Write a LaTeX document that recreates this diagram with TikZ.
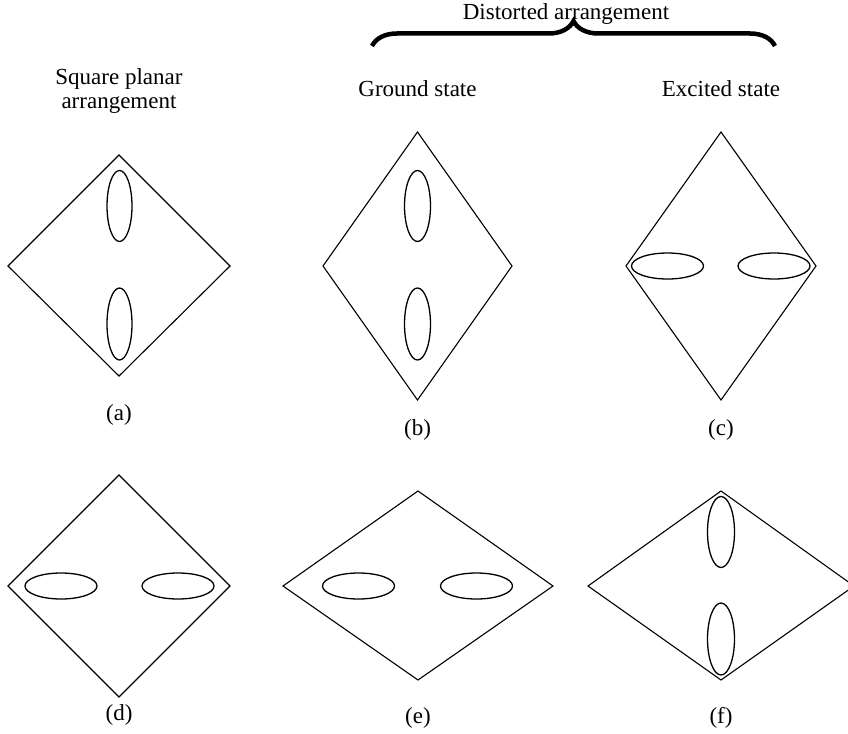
\documentclass[tikz,border=0pt]{standalone}
\usepackage{fontspec}
\setmainfont{Liberation Serif}
\usetikzlibrary{decorations.pathreplacing}

\begin{document}
\begin{tikzpicture}[
  x=1pt,y=-1pt,
  frame/.style={line width=1.1pt,line join=miter},
  lobe/.style={line width=1.3pt},
  lbl/.style={font=\fontsize{23}{24}\selectfont,align=center,inner sep=0pt},
  brc/.style={decorate,decoration={brace,amplitude=25pt},line width=4.5pt}
]
\useasboundingbox (0,0) rectangle (848,733);

% headings
\node[lbl] (sqp) at (119,91) {Square planar\\arrangement};
\node[lbl,anchor=base] (gnd) at (417.5,97) {Ground state};
\node[lbl,anchor=base] (exc) at (721,97) {Excited state};
\node[lbl,anchor=base] (dist) at (566,20) {Distorted arrangement};
\draw[brc] (372,46) -- (775,46);

% top row
\draw[frame] (119,155) -- (230,266) -- (119,376) -- (8,266) -- cycle;
\draw[lobe] (119.5,206) ellipse [x radius=12.5,y radius=35.5];
\draw[lobe] (119.5,324) ellipse [x radius=12.5,y radius=36];
\node[lbl] (la) at (119,415) {(a)};

\draw[frame] (417.5,132) -- (512,266) -- (417.5,400) -- (323,266) -- cycle;
\draw[lobe] (417.5,206) ellipse [x radius=13,y radius=35.5];
\draw[lobe] (417.5,324) ellipse [x radius=13,y radius=36];
\node[lbl] (lb) at (417.5,430) {(b)};

\draw[frame] (721,132) -- (816,266) -- (721,400) -- (626,266) -- cycle;
\draw[lobe] (667.5,266) ellipse [x radius=36,y radius=13];
\draw[lobe] (774,266) ellipse [x radius=36,y radius=13];
\node[lbl] (lc) at (721,430) {(c)};

% bottom row
\draw[frame] (119,475) -- (230,586) -- (119,697) -- (8,586) -- cycle;
\draw[lobe] (61,586) ellipse [x radius=36,y radius=13];
\draw[lobe] (178,586) ellipse [x radius=36,y radius=13];
\node[lbl] (ld) at (119,715) {(d)};

\draw[frame] (418,491) -- (553,586) -- (418,680) -- (283,586) -- cycle;
\draw[lobe] (358.5,586) ellipse [x radius=36,y radius=13];
\draw[lobe] (476.5,586) ellipse [x radius=36,y radius=13];
\node[lbl] (le) at (418,718) {(e)};

\draw[frame] (721,491) -- (854,586) -- (721,680) -- (588,586) -- cycle;
\draw[lobe] (721,532) ellipse [x radius=13.5,y radius=35.5];
\draw[lobe] (721,639) ellipse [x radius=13.5,y radius=36];
\node[lbl] (lf) at (721,718) {(f)};
\end{tikzpicture}
\end{document}
